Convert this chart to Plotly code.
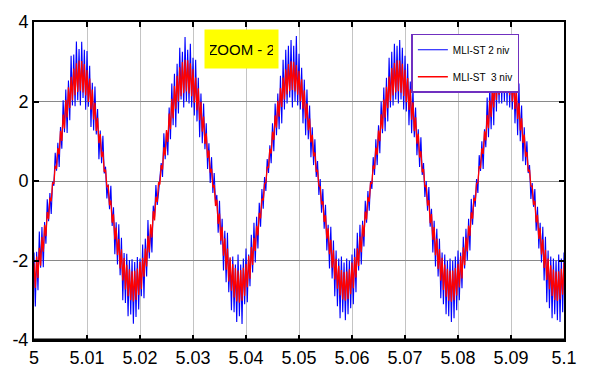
import numpy as np
import plotly.graph_objects as go

# time grid (s)
t_start, t_end, n_pts = 5.0, 5.1, 401

# MLI-ST 2 niv (blue) - values read per 20 ms period
blue_p1 = [-1.80,-3.16,-1.78,-2.75,-1.27,-2.18,-1.16,-2.17,-1.03,-1.58,
           -0.46,-1.01,-0.30,-0.83,-0.02,-0.12,0.71,0.26,0.96,0.35,
           1.36,0.81,2.03,1.23,2.30,1.21,2.53,1.53,3.15,1.90,
           3.18,1.88,3.51,2.03,3.32,1.90,3.50,2.09,3.30,1.79,
           3.27,1.87,2.90,1.36,2.47,1.27,2.38,1.17,1.81,0.55,
           1.27,0.45,1.14,0.19,0.36,-0.44,-0.08,-0.71,-0.12,-1.13,
           -0.66,-1.84,-1.04,-2.10,-1.09,-2.37,-1.43,-3.00,-1.81,-3.07,
           -1.83,-3.40,-1.99,-3.36,-1.97,-3.59,-2.04,-3.42,-1.91,-3.23]
blue_p2 = [-1.95,-2.90,-1.60,-2.95,-1.45,-2.40,-0.98,-1.95,-1.15,-1.80,
           -0.62,-0.90,-0.10,-0.60,-0.30,0.05,0.45,0.10,1.20,0.55,
           1.25,0.65,1.85,1.05,2.45,1.40,2.70,1.35,2.95,1.70,
           3.35,2.05,3.25,1.85,3.62,2.00,3.30,1.95,3.45,1.85,
           3.10,1.65,3.05,1.50,2.60,1.10,2.20,0.95,1.95,0.80,
           1.45,0.30,0.95,-0.05,0.60,-0.30,0.20,-0.55,-0.35,-1.30,
           -0.50,-1.60,-0.95,-2.25,-1.25,-2.55,-1.30,-2.80,-1.95,-3.25,
           -1.90,-3.30,-2.10,-3.55,-1.85,-3.40,-2.10,-3.60,-1.95,-3.10]
blue_p3 = [-1.70,-3.05,-1.85,-2.65,-1.35,-2.30,-1.05,-2.05,-0.90,-1.70,
           -0.55,-1.15,-0.20,-0.70,0.10,-0.25,0.55,0.20,0.90,0.45,
           1.45,0.75,1.95,1.15,2.20,1.30,2.65,1.45,3.05,1.80,
           3.30,1.95,3.40,2.10,3.55,1.85,3.40,2.00,3.65,1.90,
           3.20,1.80,2.85,1.45,2.55,1.15,2.30,1.05,1.90,0.60,
           1.35,0.40,1.05,0.10,0.50,-0.35,0.05,-0.80,-0.20,-1.20,
           -0.60,-1.75,-1.10,-2.20,-1.15,-2.45,-1.50,-2.90,-1.75,-3.15,
           -1.95,-3.45,-1.90,-3.30,-2.05,-3.50,-1.95,-3.35,-2.00,-3.20]
blue_p4 = [-1.85,-3.10,-1.70,-2.80,-1.30,-2.25,-1.10,-2.10,-1.00,-1.65,
           -0.50,-1.05,-0.25,-0.75,0.00,-0.20,0.60,0.15,1.05,0.40,
           1.40,0.70,2.00,1.20,2.35,1.25,2.60,1.50,3.10,1.85,
           3.25,1.90,3.45,2.05,3.40,1.95,3.55,2.05,3.35,1.80,
           3.15,1.75,2.95,1.40,2.50,1.20,2.35,1.10,1.85,0.65,
           1.30,0.35,1.10,0.15,0.45,-0.40,0.00,-0.75,-0.15,-1.15,
           -0.70,-1.80,-1.00,-2.15,-1.20,-2.40,-1.45,-2.95,-1.80,-3.10,
           -1.85,-3.35,-2.00,-3.40,-1.95,-3.55,-2.00,-3.45,-1.90,-3.25]
blue_p5 = [-1.75,-3.00,-1.80,-2.70,-1.40,-2.20,-1.20,-2.00,-0.95,-1.75,
           -0.45,-1.10,-0.35,-0.65,0.05,-0.30,0.65,0.25,1.00,0.30,
           1.30,0.85,2.10,1.10,2.40,1.30,2.55,1.40,3.20,1.75,
           3.20,1.95,3.60,1.95,3.35,2.00,3.45,1.90,3.40,1.85,
           3.25,1.80,2.85,1.45,2.40,1.15,2.45,1.00,1.90,0.50,
           1.35,0.40,1.00,0.20,0.40,-0.45,-0.05,-0.65,-0.20,-1.25,
           -0.65,-1.70,-1.05,-2.05,-1.15,-2.50,-1.40,-3.05,-1.75,-3.20,
           -1.90,-3.45,-1.95,-3.35,-2.00,-3.50,-1.85,-3.55,-1.95,-3.30]
blue_end = [-1.80]

# MLI-ST 3 niv (red)
red_p1 = [-2.07,-2.69,-1.90,-2.44,-1.68,-2.13,-1.41,-1.78,-1.11,-1.39,
          -0.78,-0.96,-0.42,-0.51,-0.05,-0.06,0.38,0.31,0.83,0.67,
          1.26,1.01,1.67,1.32,2.04,1.60,2.36,1.84,2.62,2.03,
          2.83,2.16,2.96,2.24,3.03,2.27,3.02,2.23,2.94,2.15,
          2.79,1.99,2.58,1.80,2.30,1.55,1.97,1.26,1.59,0.95,
          1.18,0.60,0.74,0.23,0.29,-0.14,-0.12,-0.61,-0.49,-1.05,
          -0.84,-1.47,-1.17,-1.86,-1.46,-2.20,-1.72,-2.50,-1.94,-2.73,
          -2.11,-2.90,-2.22,-3.00,-2.27,-3.03,-2.26,-2.99,-2.20,-2.87]
red_p2 = [-2.04,-2.72,-1.93,-2.41,-1.70,-2.15,-1.38,-1.80,-1.09,-1.42,
          -0.76,-0.99,-0.40,-0.53,-0.03,-0.09,0.40,0.29,0.85,0.64,
          1.28,0.98,1.70,1.30,2.07,1.58,2.39,1.82,2.65,2.00,
          2.86,2.13,2.99,2.21,3.05,2.25,3.04,2.20,2.96,2.13,
          2.81,1.97,2.60,1.78,2.33,1.53,1.99,1.24,1.62,0.93,
          1.20,0.58,0.77,0.21,0.31,-0.16,-0.10,-0.63,-0.47,-1.08,
          -0.82,-1.50,-1.15,-1.88,-1.44,-2.23,-1.70,-2.53,-1.92,-2.76,
          -2.09,-2.93,-2.19,-3.03,-2.25,-3.06,-2.24,-3.01,-2.18,-2.89]
red_p3 = [-2.09,-2.67,-1.88,-2.46,-1.66,-2.11,-1.43,-1.76,-1.13,-1.37,
          -0.80,-0.94,-0.44,-0.49,-0.07,-0.04,0.36,0.33,0.81,0.69,
          1.24,1.03,1.65,1.34,2.02,1.62,2.34,1.86,2.60,2.05,
          2.81,2.18,2.94,2.26,3.01,2.29,3.00,2.25,2.92,2.17,
          2.77,2.01,2.56,1.82,2.28,1.57,1.95,1.28,1.57,0.97,
          1.16,0.62,0.72,0.25,0.27,-0.12,-0.14,-0.59,-0.51,-1.03,
          -0.86,-1.45,-1.19,-1.84,-1.48,-2.18,-1.74,-2.48,-1.96,-2.71,
          -2.13,-2.88,-2.24,-2.98,-2.29,-3.01,-2.28,-2.97,-2.22,-2.85]
red_p4 = [-2.05,-2.70,-1.91,-2.43,-1.69,-2.14,-1.40,-1.79,-1.10,-1.40,
          -0.77,-0.97,-0.41,-0.52,-0.04,-0.07,0.39,0.30,0.84,0.66,
          1.27,1.00,1.68,1.31,2.05,1.59,2.37,1.83,2.63,2.02,
          2.84,2.15,2.97,2.23,3.04,2.26,3.03,2.22,2.95,2.14,
          2.80,1.98,2.59,1.79,2.31,1.54,1.98,1.25,1.60,0.94,
          1.19,0.59,0.75,0.22,0.30,-0.15,-0.11,-0.62,-0.48,-1.06,
          -0.83,-1.48,-1.16,-1.87,-1.45,-2.21,-1.71,-2.51,-1.93,-2.74,
          -2.10,-2.91,-2.21,-3.01,-2.26,-3.04,-2.25,-3.00,-2.19,-2.88]
red_p5 = [-2.08,-2.68,-1.89,-2.45,-1.67,-2.12,-1.42,-1.77,-1.12,-1.38,
          -0.79,-0.95,-0.43,-0.50,-0.06,-0.05,0.37,0.32,0.82,0.68,
          1.25,1.02,1.66,1.33,2.03,1.61,2.35,1.85,2.61,2.04,
          2.82,2.17,2.95,2.25,3.02,2.28,3.01,2.24,2.93,2.16,
          2.78,2.00,2.57,1.81,2.29,1.56,1.96,1.27,1.58,0.96,
          1.17,0.61,0.73,0.24,0.28,-0.13,-0.13,-0.60,-0.50,-1.04,
          -0.85,-1.46,-1.18,-1.85,-1.47,-2.19,-1.73,-2.49,-1.95,-2.72,
          -2.12,-2.89,-2.23,-2.99,-2.28,-3.02,-2.27,-2.98,-2.21,-2.86]
red_end = [-2.06]

x_ticks = [5.0, 5.01, 5.02, 5.03, 5.04, 5.05, 5.06, 5.07, 5.08, 5.09, 5.1]
x_tick_labels = ["5", "5.01", "5.02", "5.03", "5.04", "5.05", "5.06", "5.07", "5.08", "5.09", "5.1"]
y_ticks = [-4, -2, 0, 2, 4]
y_tick_labels = ["-4", "-2", "0", "2", "4"]

blue = blue_p1 + blue_p2 + blue_p3 + blue_p4 + blue_p5 + blue_end
red = red_p1 + red_p2 + red_p3 + red_p4 + red_p5 + red_end
t = np.linspace(t_start, t_end, n_pts)

FONT = "Liberation Sans Narrow, Arial Narrow, Liberation Sans, Arial, sans-serif"

fig = go.Figure()
fig.add_trace(go.Scatter(x=t, y=blue, mode="lines", name="MLI-ST 2 niv",
                         line=dict(color="#0000ff", width=1.1), legendgroup="a"))
fig.add_trace(go.Scatter(x=t, y=red, mode="lines", name="MLI-ST  3 niv",
                         line=dict(color="#ff0000", width=1.3), legendgroup="b"))

axis_common = dict(showline=True, linecolor="black", linewidth=2, mirror="ticks",
                   ticks="inside", ticklen=5, tickcolor="black", tickwidth=1.5,
                   zeroline=False, showgrid=True, gridwidth=1,
                   tickfont=dict(family=FONT, size=18, color="black"))

fig.update_xaxes(range=[t_start, t_end], tickvals=x_ticks, ticktext=x_tick_labels,
                 gridcolor="#c4c4c4", **axis_common)
fig.update_yaxes(range=[-4, 4], tickvals=y_ticks, ticktext=y_tick_labels,
                 gridcolor="#8a8a8a", **axis_common)

fig.add_shape(type="line", xref="paper", yref="paper", x0=0, x1=1, y0=0, y1=0,
              line=dict(color="black", width=3))

fig.add_annotation(x=5.0391, y=3.31, xref="x", yref="y", text="ZOOM - 2",
                   showarrow=False, bgcolor="#ffff00", borderpad=5,
                   width=63, height=28, align="center", valign="middle",
                   font=dict(family=FONT, size=15, color="black"))

fig.update_layout(
    width=589, height=380,
    margin=dict(l=29, r=21, t=20, b=31),
    paper_bgcolor="white", plot_bgcolor="white",
    showlegend=True,
    legend=dict(x=0.712, y=0.963, xanchor="left", yanchor="top",
                bgcolor="white", bordercolor="#7030c0", borderwidth=1.5,
                font=dict(family=FONT, size=10, color="black"),
                traceorder="grouped", tracegroupgap=8, itemwidth=30),
)

fig.write_html("out.html")
